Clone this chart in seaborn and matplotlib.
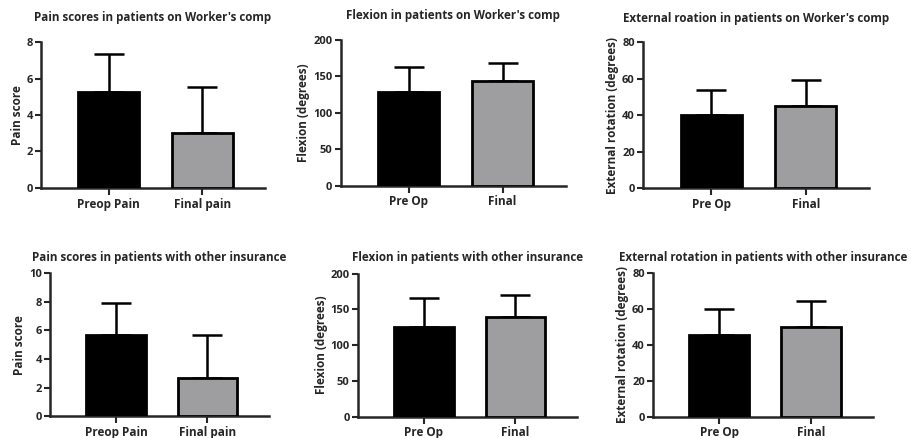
import numpy as np
import pandas as pd
import seaborn as sns
import matplotlib.pyplot as plt

# values (mean, upward SD)
pain_labels = ["Preop Pain", "Final pain"]
op_labels = ["Pre Op", "Final"]

wc_pain_mean = [5.25, 3.0]
wc_pain_sd = [2.1, 2.55]
wc_flex_mean = [128, 144]
wc_flex_sd = [35, 24]
wc_er_mean = [40.5, 45]
wc_er_sd = [13.3, 14.3]

oi_pain_mean = [5.7, 2.7]
oi_pain_sd = [2.2, 3.0]
oi_flex_mean = [126, 140]
oi_flex_sd = [40, 30]
oi_er_mean = [45.5, 50]
oi_er_sd = [14.7, 14.5]

titles = [
    "Pain scores in patients on Worker's comp",
    "Flexion in patients on Worker's comp",
    "External roation in patients on Worker's comp",
    "Pain scores in patients with other insurance",
    "Flexion in patients with other insurance",
    "External rotation in patients with other insurance",
]
ylabels = ["Pain score", "Flexion (degrees)", "External rotation (degrees)"] * 2

sns.set_style("ticks")
plt.rcParams['font.family'] = ['Open Sans', 'DejaVu Sans']
plt.rcParams['font.weight'] = 'bold'

fig = plt.figure(figsize=(9.11, 4.38), dpi=100)

# axes boxes in figure fractions
boxes = [
    [0.045, 0.571, 0.246, 0.333],
    [0.374, 0.576, 0.247, 0.333],
    [0.706, 0.570, 0.248, 0.333],
    [0.055, 0.050, 0.240, 0.326],
    [0.393, 0.049, 0.240, 0.326],
    [0.717, 0.049, 0.241, 0.327],
]
panels = [
    (pain_labels, wc_pain_mean, wc_pain_sd, 8, 2),
    (op_labels, wc_flex_mean, wc_flex_sd, 200, 50),
    (op_labels, wc_er_mean, wc_er_sd, 80, 20),
    (pain_labels, oi_pain_mean, oi_pain_sd, 10, 2),
    (op_labels, oi_flex_mean, oi_flex_sd, 200, 50),
    (op_labels, oi_er_mean, oi_er_sd, 80, 20),
]
title_pads = [15, 15, 15, 9, 9, 9]

for i, (cats, means, sds, ymax, step) in enumerate(panels):
    ax = fig.add_axes(boxes[i])
    df = pd.DataFrame({"group": cats, "value": means})
    sns.barplot(data=df, x="group", y="value", hue="group",
                palette=["black", "#9d9da1"], width=0.65,
                edgecolor="black", linewidth=2, legend=False,
                ax=ax, zorder=3)
    ax.errorbar(range(len(cats)), means, yerr=[np.zeros(len(sds)), sds],
                fmt="none", ecolor="black", elinewidth=1.8,
                capsize=11, capthick=1.8, zorder=2)
    ax.set_xlim(-0.72, 1.67)
    ax.set_ylim(0, ymax)
    ax.set_yticks(np.arange(0, ymax + 1, step))
    ax.set_xlabel("")
    ax.set_ylabel(ylabels[i], fontsize=8.5, fontweight="bold", labelpad=2)
    ax.set_title(titles[i], fontsize=8.4, fontweight="bold", pad=title_pads[i])
    sns.despine(ax=ax)
    for s in ["left", "bottom"]:
        ax.spines[s].set_linewidth(1.8)
    ax.tick_params(axis="y", labelsize=8, width=1.5, length=4, pad=2)
    ax.tick_params(axis="x", labelsize=8.5, width=1.5, length=5, pad=2)
    for lbl in ax.get_xticklabels() + ax.get_yticklabels():
        lbl.set_fontweight("bold")

fig.savefig("out.png", dpi=100)
